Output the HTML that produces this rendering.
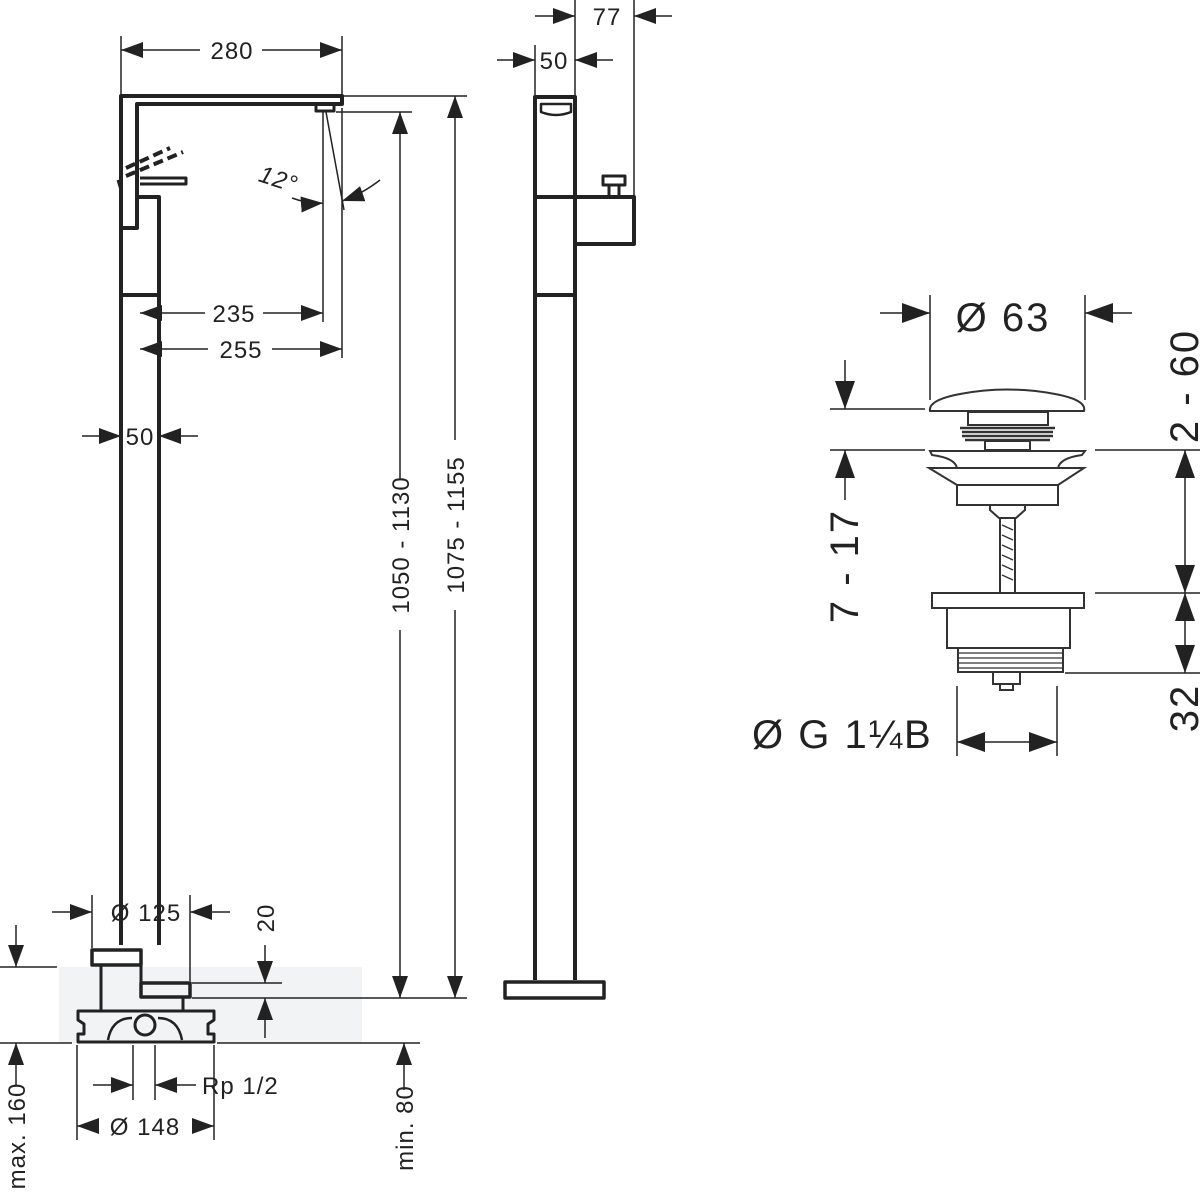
<!DOCTYPE html>
<html><head><meta charset="utf-8"><style>
html,body{margin:0;padding:0;background:#fff}
svg{display:block}
text{font-family:"Liberation Sans",sans-serif;fill:#222}
</style></head><body>
<svg width="1200" height="1195" viewBox="0 0 1200 1195" xmlns="http://www.w3.org/2000/svg">
<defs>
<marker id="a" markerUnits="userSpaceOnUse" markerWidth="24" markerHeight="18" refX="22" refY="8" orient="auto"><path d="M0,0 L22,8 L0,16 z" fill="#222"/></marker>
<marker id="b" markerUnits="userSpaceOnUse" markerWidth="30" markerHeight="24" refX="28" refY="10" orient="auto"><path d="M0,0 L28,10 L0,20 z" fill="#222"/></marker>
</defs>
<rect x="59" y="967" width="303" height="76" fill="#f2f3f5"/>
<g fill="none" stroke="#222" stroke-width="1.5">
<line x1="121" y1="36" x2="121" y2="95"/><line x1="342" y1="36" x2="342" y2="95"/>
<line x1="323" y1="112" x2="323" y2="322"/><line x1="342" y1="108" x2="342" y2="358"/>
<line x1="342" y1="96" x2="467" y2="96"/><line x1="336" y1="112" x2="412" y2="112"/>
<line x1="192" y1="998" x2="467" y2="998"/>
<line x1="0" y1="967" x2="57" y2="967"/>
<line x1="0" y1="1043" x2="72" y2="1043"/><line x1="217" y1="1043" x2="420" y2="1043"/>
<line x1="92" y1="895" x2="92" y2="948"/><line x1="190" y1="895" x2="190" y2="981"/>
<line x1="192" y1="983" x2="282" y2="983"/>
<line x1="77" y1="1045" x2="77" y2="1140"/><line x1="214" y1="1045" x2="214" y2="1140"/>
<line x1="133" y1="1045" x2="133" y2="1100"/><line x1="155" y1="1045" x2="155" y2="1100"/>
<line x1="326" y1="112" x2="344" y2="210"/>
<line x1="200" y1="50" x2="121" y2="50" marker-end="url(#a)"/><line x1="262" y1="50" x2="342" y2="50" marker-end="url(#a)"/>
<line x1="205" y1="313" x2="140" y2="313" marker-end="url(#a)"/><line x1="263" y1="313" x2="323" y2="313" marker-end="url(#a)"/>
<line x1="208" y1="349" x2="140" y2="349" marker-end="url(#a)"/><line x1="272" y1="349" x2="342" y2="349" marker-end="url(#a)"/>
<line x1="82" y1="436" x2="121" y2="436" marker-end="url(#a)"/><line x1="198" y1="436" x2="159" y2="436" marker-end="url(#a)"/>
<line x1="400" y1="480" x2="400" y2="112" marker-end="url(#a)"/><line x1="400" y1="630" x2="400" y2="998" marker-end="url(#a)"/>
<line x1="455" y1="440" x2="455" y2="96" marker-end="url(#a)"/><line x1="455" y1="610" x2="455" y2="998" marker-end="url(#a)"/>
<line x1="52" y1="912" x2="92" y2="912" marker-end="url(#a)"/><line x1="230" y1="912" x2="190" y2="912" marker-end="url(#a)"/>
<line x1="265" y1="945" x2="265" y2="983" marker-end="url(#a)"/><line x1="265" y1="1038" x2="265" y2="998" marker-end="url(#a)"/>
<line x1="93" y1="1085" x2="133" y2="1085" marker-end="url(#a)"/><line x1="196" y1="1085" x2="155" y2="1085" marker-end="url(#a)"/>
<line x1="98" y1="1126" x2="77" y2="1126" marker-end="url(#a)"/><line x1="193" y1="1126" x2="214" y2="1126" marker-end="url(#a)"/>
<line x1="16" y1="925" x2="16" y2="967" marker-end="url(#a)"/><line x1="16" y1="1085" x2="16" y2="1043" marker-end="url(#a)"/>
<line x1="404" y1="1090" x2="404" y2="1043" marker-end="url(#a)"/>
<path d="M292,198 Q308,204 323,203" marker-end="url(#a)"/><path d="M380,180 Q362,194 342,201" marker-end="url(#a)"/>
<line x1="575" y1="0" x2="575" y2="195"/><line x1="634" y1="0" x2="634" y2="195"/>
<line x1="535" y1="45" x2="535" y2="95"/>
<line x1="535" y1="16" x2="575" y2="16" marker-end="url(#a)"/><line x1="672" y1="16" x2="634" y2="16" marker-end="url(#a)"/>
<line x1="497" y1="60" x2="535" y2="60" marker-end="url(#a)"/><line x1="613" y1="60" x2="575" y2="60" marker-end="url(#a)"/>
<line x1="930" y1="295" x2="930" y2="400"/><line x1="1085" y1="295" x2="1085" y2="400"/>
<line x1="880" y1="313" x2="930" y2="313" marker-end="url(#b)"/><line x1="1132" y1="313" x2="1085" y2="313" marker-end="url(#b)"/>
<line x1="830" y1="409" x2="925" y2="409"/>
<line x1="830" y1="450" x2="925" y2="450"/><line x1="1095" y1="450" x2="1200" y2="450"/>
<line x1="1095" y1="593" x2="1200" y2="593"/><line x1="1065" y1="673" x2="1200" y2="673"/>
<line x1="845" y1="360" x2="845" y2="409" marker-end="url(#b)"/>
<line x1="845" y1="500" x2="845" y2="450" marker-end="url(#b)"/>
<line x1="1185" y1="515" x2="1185" y2="450" marker-end="url(#b)"/><line x1="1185" y1="515" x2="1185" y2="593" marker-end="url(#b)"/>
<line x1="1185" y1="635" x2="1185" y2="593" marker-end="url(#b)"/><line x1="1185" y1="635" x2="1185" y2="673" marker-end="url(#b)"/>
<line x1="957" y1="686" x2="957" y2="756"/><line x1="1057" y1="686" x2="1057" y2="756"/>
<line x1="1007" y1="742" x2="957" y2="742" marker-end="url(#b)"/><line x1="1007" y1="742" x2="1057" y2="742" marker-end="url(#b)"/>
</g>
<g fill="none" stroke="#222" stroke-width="4" stroke-linejoin="round">
<path d="M121,945 V96 H342 V104 H137 V228 H121"/>
<path d="M137,197 H159 V945"/>
<line x1="121" y1="295" x2="159" y2="295"/>
<rect x="316" y="104" width="18" height="7" stroke-width="3"/>
<path d="M140,178 H186 V184 H140" stroke-width="3"/>
<path d="M118,180 L121,190" stroke-width="3"/>
<rect x="92" y="950" width="49" height="15" stroke-width="3.5"/>
<rect x="141" y="983" width="49" height="14" stroke-width="3.5"/>
<path d="M101,965 V1010 M141,965 V983 M183,997 V1010" stroke-width="3"/>
<path d="M78,1011 H214 V1020 L208,1024 V1034 H214 V1042 H78 V1034 H84 V1024 L78,1020 Z" stroke-width="3"/>
<circle cx="145" cy="1025" r="10" stroke-width="3"/>
<path d="M108,1040 Q112,1018 132,1018 M182,1040 Q178,1018 158,1018" stroke-width="2.5"/>
</g>
<g stroke="#222" stroke-width="4" stroke-dasharray="10,5" fill="none"><path d="M126,176 L183,152 M126,168 L170,148"/></g>
<g fill="none" stroke="#222" stroke-width="4" stroke-linejoin="round">
<path d="M535,980 V97 H575 V980"/>
<path d="M541,104 H571 V112 Q556,118 541,112 Z" stroke-width="2.5"/>
<line x1="535" y1="197" x2="575" y2="197"/>
<path d="M575,197 H634 V244 H577"/>
<rect x="603" y="176" width="22" height="9" stroke-width="3"/>
<path d="M609,185 V197 M619,185 V197" stroke-width="3"/>
<line x1="535" y1="295" x2="575" y2="295"/>
<rect x="505" y="982" width="99" height="16" stroke-width="3.5"/>
</g>
<g fill="none" stroke="#333" stroke-width="2">
<path d="M930,411 Q928,400 960,394 Q1007,385 1055,394 Q1087,400 1084,411 Z"/>
<rect x="968" y="412" width="80" height="13"/>
<path d="M960,428 H1055 M962,432 H1053 M962,436 H1053 M965,440 H1050" stroke-width="2.5"/>
<rect x="985" y="441" width="45" height="9"/>
<path d="M930,451 H1085 L1082,455 Q1060,458 1058,468 H957 Q955,458 932,455 Z"/>
<path d="M929,468 H1084 L1058,485 H957 Z"/>
<rect x="957" y="485" width="101" height="20"/>
<path d="M990,505 H1025 V510 L1016,518 H999 L990,510 Z"/>
<rect x="1000" y="518" width="15" height="75"/>
<path d="M1002,525 L1013,530 M1002,535 L1013,540 M1002,545 L1013,550 M1002,555 L1013,560 M1002,565 L1013,570 M1002,575 L1013,580" stroke-width="1.5"/>
<rect x="932" y="593" width="152" height="15"/>
<rect x="947" y="608" width="123" height="40"/>
<rect x="958" y="648" width="105" height="24"/>
<path d="M958,653 H1063 M958,658 H1063 M958,663 H1063 M958,668 H1063" stroke-width="1.2"/>
<rect x="993" y="672" width="27" height="12"/>
<rect x="1000" y="684" width="13" height="6"/>
</g>
<g font-size="24" letter-spacing="1">
<text x="232" y="59" text-anchor="middle">280</text>
<text x="234" y="322" text-anchor="middle">235</text>
<text x="241" y="358" text-anchor="middle">255</text>
<text x="140" y="445" text-anchor="middle">50</text>
<text x="146" y="921" text-anchor="middle">Ø 125</text>
<text x="202" y="1094">Rp 1/2</text>
<text x="145" y="1135" text-anchor="middle">Ø 148</text>
<text x="607" y="25" text-anchor="middle">77</text>
<text x="554" y="69" text-anchor="middle">50</text>
<text transform="translate(276,187) rotate(18)" text-anchor="middle" font-style="italic">12°</text>
<text transform="translate(409,545) rotate(-90)" text-anchor="middle">1050 - 1130</text>
<text transform="translate(464,525) rotate(-90)" text-anchor="middle">1075 - 1155</text>
<text transform="translate(274,918) rotate(-90)" text-anchor="middle">20</text>
<text transform="translate(25,1136) rotate(-90)" text-anchor="middle">max. 160</text>
<text transform="translate(413,1128) rotate(-90)" text-anchor="middle">min. 80</text>
</g>
<g font-size="40" letter-spacing="2">
<text x="1003" y="331" text-anchor="middle">Ø 63</text>
<text x="752" y="748">Ø G 1¼B</text>
<text transform="translate(1198,386) rotate(-90)" text-anchor="middle">2 - 60</text>
<text transform="translate(858,566) rotate(-90)" text-anchor="middle">7 - 17</text>
<text transform="translate(1198,708) rotate(-90)" text-anchor="middle">32</text>
</g>
</svg>
</body></html>
